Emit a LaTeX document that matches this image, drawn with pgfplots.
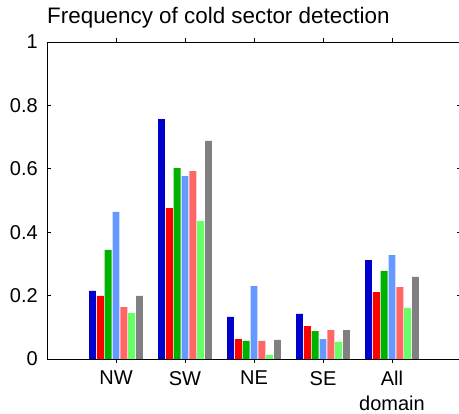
\documentclass[border=0pt]{standalone}
\usepackage{pgfplots}
\pgfplotsset{compat=1.18}
\usepackage{fontspec}
\setmainfont{Liberation Sans}
\definecolor{c1}{rgb}{0,0,0.8}
\definecolor{c2}{rgb}{1,0,0}
\definecolor{c3}{rgb}{0,0.7,0}
\definecolor{c4}{rgb}{0.4,0.6,1}
\definecolor{c5}{rgb}{1,0.4,0.4}
\definecolor{c6}{rgb}{0.4,1,0.4}
\definecolor{c7}{rgb}{0.5,0.5,0.5}
\begin{document}
\begin{tikzpicture}
\begin{axis}[
  at={(0,0)}, anchor=south west,
  scale only axis, width=414bp, height=317bp,
  xmin=0, xmax=6, ymin=0, ymax=1,
  xtick={1,2,3,4,5},
  xticklabels={NW,SW,NE,SE,{All\\domain}},
  ytick={0,0.2,0.4,0.6,0.8,1},
  yticklabels={0,0.2,0.4,0.6,0.8,1},
  tick align=inside, major tick length=4bp,
  tick style={black, line width=0.6bp},
  axis line style={line width=0.8bp},
  xticklabel style={align=center, inner sep=0pt, yshift=-8bp, font=\fontsize{20bp}{24.5bp}\selectfont},
  yticklabel style={inner sep=0pt, xshift=-9bp, font=\fontsize{20bp}{24bp}\selectfont},
  title={Frequency of cold sector detection},
  title style={at={(0,1)}, anchor=base west, inner sep=0pt, yshift=13bp, font=\fontsize{22.4bp}{26bp}\selectfont},
  ybar, bar width=0.1,
  every axis plot/.append style={draw=none},
]
\addplot[fill=c1, bar shift=-0.3405] coordinates {(1,0.215) (2,0.757) (3,0.133) (4,0.142) (5,0.312)};
\addplot[fill=c2, bar shift=-0.227] coordinates {(1,0.199) (2,0.476) (3,0.063) (4,0.104) (5,0.211)};
\addplot[fill=c3, bar shift=-0.1135] coordinates {(1,0.344) (2,0.602) (3,0.057) (4,0.088) (5,0.278)};
\addplot[fill=c4, bar shift=0] coordinates {(1,0.464) (2,0.577) (3,0.230) (4,0.063) (5,0.328)};
\addplot[fill=c5, bar shift=0.1135] coordinates {(1,0.164) (2,0.593) (3,0.057) (4,0.091) (5,0.227)};
\addplot[fill=c6, bar shift=0.227] coordinates {(1,0.145) (2,0.435) (3,0.013) (4,0.054) (5,0.161)};
\addplot[fill=c7, bar shift=0.3405] coordinates {(1,0.199) (2,0.688) (3,0.060) (4,0.091) (5,0.259)};
\end{axis}
\pgfresetboundingbox
\path[use as bounding box] (-47bp,-55bp) rectangle (412bp,359bp);
\end{tikzpicture}
\end{document}
